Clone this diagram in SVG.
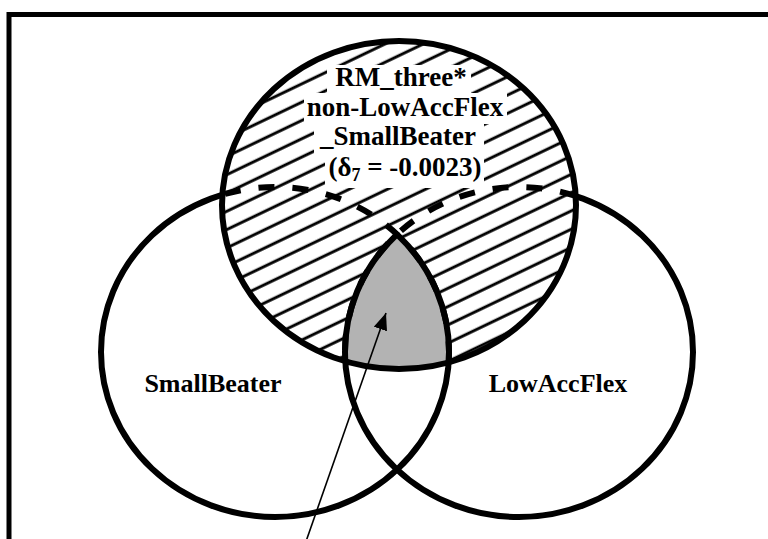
<svg xmlns="http://www.w3.org/2000/svg" width="768" height="539" viewBox="0 0 768 539">
<style>
.c{fill:none;stroke:#000;stroke-width:6}
.d{fill:none;stroke:#000;stroke-width:6;stroke-dasharray:16 18}
.t{font-family:"Liberation Serif","Times New Roman",serif;font-weight:bold;font-size:26px;text-anchor:middle;fill:#000}
.big{font-size:27px}
.bg{fill:#fff}
</style>
<defs>
<pattern id="hatch" patternUnits="userSpaceOnUse" width="40" height="16.5" patternTransform="rotate(-25.6)">
<line x1="-2" y1="8" x2="42" y2="8" stroke="#000" stroke-width="3"/>
</pattern>
<clipPath id="inTop"><ellipse cx="399" cy="205" rx="177" ry="164"/></clipPath>
<clipPath id="outTop"><path clip-rule="evenodd" d="M0 0H768V539H0Z M222 205a177 164 0 1 0 354 0a177 164 0 1 0-354 0Z"/></clipPath>
<clipPath id="inL"><ellipse cx="275" cy="352" rx="174" ry="165"/></clipPath>
<clipPath id="inR"><ellipse cx="519" cy="352" rx="174" ry="165"/></clipPath>
<marker id="arr" markerUnits="userSpaceOnUse" markerWidth="18" markerHeight="14" refX="17" refY="7" orient="auto">
<path d="M0 0L17 7L0 14Z" fill="#000"/>
</marker>
</defs>
<rect width="768" height="539" fill="#fff"/>

<g id="top-circle">
<ellipse cx="399" cy="205" rx="177" ry="164" fill="url(#hatch)"/>
</g>
<g id="overlap">
<g clip-path="url(#inTop)"><g clip-path="url(#inL)"><ellipse cx="519" cy="352" rx="174" ry="165" fill="#b3b3b3"/></g></g>
</g>
<g id="label-top">
<rect class="bg" x="327" y="65" width="144" height="29"/>
<rect class="bg" x="304" y="93" width="203" height="31"/>
<rect class="bg" x="314" y="123" width="170" height="30"/>
<rect class="bg" x="325" y="152" width="159" height="36"/>
<text class="t big" x="401" y="85.5">RM_three*</text>
<text class="t big" x="405" y="115.5">non-LowAccFlex</text>
<text class="t big" x="398" y="145">_SmallBeater</text>
<text class="t big" x="405" y="176">(δ<tspan font-size="18" dy="5">7</tspan><tspan dy="-5"> = -0.0023)</tspan></text>
</g>
<g id="small-beater">
<g clip-path="url(#inTop)"><ellipse class="d" cx="275" cy="352" rx="174" ry="165"/></g>
<g clip-path="url(#outTop)"><ellipse class="c" cx="275" cy="352" rx="174" ry="165"/></g>
<g clip-path="url(#inTop)"><g clip-path="url(#inR)"><ellipse class="c" cx="275" cy="352" rx="174" ry="165"/></g></g>
<text class="t" x="213" y="392">SmallBeater</text>
</g>
<g id="low-acc-flex">
<g clip-path="url(#inTop)"><ellipse class="d" cx="519" cy="352" rx="174" ry="165" stroke-dashoffset="10"/></g>
<g clip-path="url(#outTop)"><ellipse class="c" cx="519" cy="352" rx="174" ry="165"/></g>
<g clip-path="url(#inTop)"><g clip-path="url(#inL)"><ellipse class="c" cx="519" cy="352" rx="174" ry="165"/></g></g>
<text class="t" x="558" y="392">LowAccFlex</text>
</g>
<g id="top-circle-outline">
<ellipse class="c" cx="399" cy="205" rx="177" ry="164"/>
</g>
<g id="connectors">
<line x1="303" y1="550" x2="386" y2="313" stroke="#000" stroke-width="1.6" marker-end="url(#arr)"/>
</g>
<rect x="9" y="14.5" width="800" height="600" fill="none" stroke="#000" stroke-width="5"/>
</svg>
